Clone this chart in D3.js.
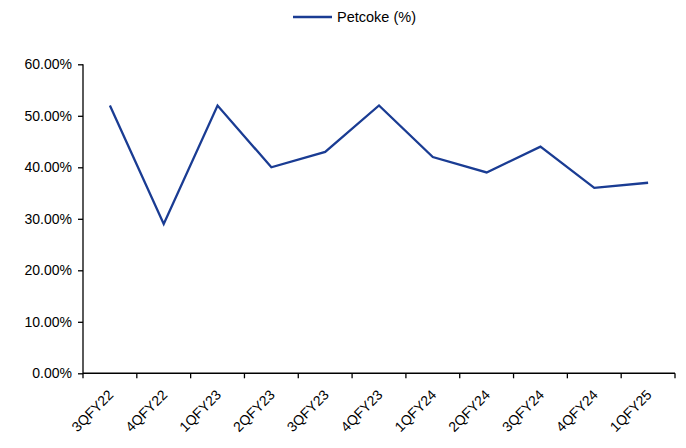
<!DOCTYPE html>
<html>
<head>
<meta charset="utf-8">
<script src="https://cdn.jsdelivr.net/npm/d3@7"></script>
<style>
  html, body { margin: 0; padding: 0; background: #fff; }
  svg text { font-family: "Liberation Sans", Arial, sans-serif; fill: #000; }
</style>
</head>
<body>
<svg id="chart" width="686" height="448"></svg>
<script>
// Quarterly petcoke share of fuel mix
const quarters = ["3QFY22", "4QFY22", "1QFY23", "2QFY23", "3QFY23", "4QFY23",
                  "1QFY24", "2QFY24", "3QFY24", "4QFY24", "1QFY25"];
const petcoke = [52, 29, 52, 40, 43, 52, 42, 39, 44, 36, 37];
const yTicks = [0, 10, 20, 30, 40, 50, 60];
const seriesName = "Petcoke (%)";
const lineColor = "#1a3c93";

const svg = d3.select("#chart");
const margin = { left: 83, right: 11, top: 64, bottom: 75 };
const W = 686, H = 448;

const x = d3.scaleBand().domain(quarters).range([margin.left, W - margin.right]);
const y = d3.scaleLinear().domain([0, 60]).range([H - margin.bottom + 0.3, margin.top + 0.3]);

// y axis
const yAxis = svg.append("g")
  .attr("transform", `translate(${margin.left},0)`)
  .call(d3.axisLeft(y).tickValues(yTicks).tickSize(5).tickPadding(6)
        .tickFormat(d => d.toFixed(2) + "%"));
yAxis.selectAll("text").style("font-size", "14px");
yAxis.selectAll("line, path").attr("stroke", "#000").attr("stroke-width", 1.3);
yAxis.select(".domain").attr("d", `M0,${y(60)}V${y(0)}`);

// x axis with ticks on category boundaries
const xAxis = svg.append("g")
  .attr("transform", `translate(0,${y(0)})`);
xAxis.append("line")
  .attr("x1", margin.left).attr("x2", W - margin.right)
  .attr("stroke", "#000").attr("stroke-width", 1.5);
const bounds = quarters.map(q => x(q)).concat([x(quarters[quarters.length - 1]) + x.bandwidth()]);
xAxis.selectAll(".xt").data(bounds).join("line")
  .attr("x1", d => d).attr("x2", d => d)
  .attr("y1", 0).attr("y2", 5)
  .attr("stroke", "#000").attr("stroke-width", 1.3);
xAxis.selectAll(".xl").data(quarters).join("text")
  .attr("transform", d => `translate(${x(d) + x.bandwidth() / 2 + 1},${19}) rotate(-45)`)
  .attr("text-anchor", "end")
  .attr("dy", "0.35em")
  .style("font-size", "14px")
  .text(d => d);

// series line
const line = d3.line()
  .x((d, i) => x(quarters[i]) + x.bandwidth() / 2)
  .y(d => y(d));
svg.append("path")
  .datum(petcoke)
  .attr("d", line)
  .attr("fill", "none")
  .attr("stroke", lineColor)
  .attr("stroke-width", 2.3)
  .attr("stroke-linejoin", "miter");

// legend
const lg = svg.append("g").attr("transform", "translate(293,17)");
lg.append("line").attr("x1", 0).attr("x2", 39).attr("y1", 0).attr("y2", 0)
  .attr("stroke", lineColor).attr("stroke-width", 2.3);
lg.append("text").attr("x", 44).attr("y", 0).attr("dy", "0.35em")
  .style("font-size", "14.5px").text(seriesName);
</script>
</body>
</html>
